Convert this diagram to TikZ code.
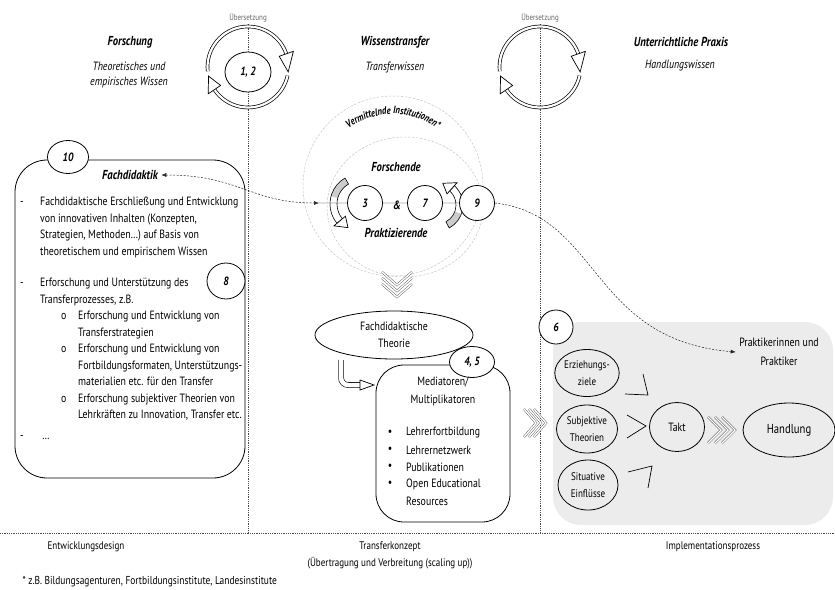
\documentclass[tikz,border=0pt]{standalone}
\usepackage{fontspec}
\setmainfont{PT Sans}[FakeStretch=0.82]
\usetikzlibrary{shapes.geometric,arrows.meta,decorations.text}

\begin{document}
\begin{tikzpicture}
  [x=1pt,y=-1pt,every node/.style={font=\fontsize{12}{16.5}\selectfont},
   num/.style={ellipse,draw,fill=white,line width=.8pt,inner sep=0pt,font=\fontsize{12}{14}\selectfont\bfseries\itshape},
   head/.style={font=\fontsize{13}{16}\selectfont\bfseries\itshape},
   sub/.style={font=\fontsize{12}{15}\selectfont\itshape,align=center},
   bubble/.style={ellipse,draw,line width=.8pt,inner sep=0pt,align=center,font=\fontsize{11}{17}\selectfont},
   dots/.style={gray!60!black,line width=.55pt,dash pattern=on .8pt off 1pt},
   link/.style={gray!30!black,line width=.5pt,dash pattern=on 2pt off 1.5pt},
   ring/.style={gray!45,line width=.5pt,dash pattern=on 2.5pt off 1.5pt},
   chev/.style={gray!60!black,line width=.4pt,double=white,double distance=1.4pt},
   cyc/.style={line width=.7pt,double=white,double distance=2.2pt},
   bent/.style={line width=.6pt,double=white,double distance=4.5pt,rounded corners=7},
   tip/.style={line width=.7pt,fill=white,line join=miter}]
  \useasboundingbox (0,0) rectangle (835,589);

  \fill[gray!15,rounded corners=28] (553,322) rectangle (833,525);
  \draw[dots] (0,533) -- (835,533);
  \draw[dots] (248,24) -- (248,533);
  \draw[dots] (540,24) -- (540,533);

  \node[head] (forsch) at (130,42) {Forschung};
  \node[sub] (theo) at (129,75) {Theoretisches und\\empirisches Wissen};
  \node[head] (wiss) at (395,42) {Wissenstransfer};
  \node[sub] (twiss) at (395,67) {Transferwissen};
  \node[head] (unter) at (681,42) {Unterrichtliche Praxis};
  \node[sub] (hwiss) at (680,66) {Handlungswissen};

  \foreach \cx in {248,540} {
    \draw[cyc] ([shift={(\cx,67)}]174:40.5) arc[start angle=174,end angle=341,radius=40.5];
    \draw[tip] ([shift={(\cx,67)}]341:33) -- ([shift={(\cx,67)}]341:48) -- ([shift={(\cx,67)}]7:40.5) -- cycle;
    \draw[cyc] ([shift={(\cx,67)}]12:40.5) arc[start angle=12,end angle=146,radius=40.5];
    \draw[tip] ([shift={(\cx,67)}]146:33) -- ([shift={(\cx,67)}]146:48) -- ([shift={(\cx,67)}]167:40.5) -- cycle;
    \node[font=\fontsize{8.5}{9}\selectfont,text=gray!80!black] (ueb\cx) at (\cx,18) {Übersetzung};
  }
  \node[num,minimum width=46,minimum height=40] (n12) at (248,72) {1, 2};

  \draw[ring] (393,186) circle[radius=90];
  \draw[ring] (405,207) ellipse[x radius=78,y radius=70];
  \path[decorate,decoration={text along path,text align=center,
    text={|\fontsize{10.5}{11}\selectfont\bfseries\itshape|Vermittelnde Institutionen*}}]
    ([shift={(393,188)}]195:74) arc[start angle=195,end angle=345,radius=74];

  \coordinate (ln3) at (319,203);
  \coordinate (ln9) at (494,203);
  \draw[gray!25,line width=1.2pt] (ln3) -- (ln9);

  \fill[gray!40] ([shift={(360,204)}]240:23) arc[start angle=240,end angle=195,radius=23]
    -- ([shift={(360,204)}]195:30) arc[start angle=195,end angle=240,radius=30] -- cycle;
  \draw[line width=.6pt] ([shift={(360,204)}]240:23) arc[start angle=240,end angle=140,radius=23]
    -- ([shift={(360,204)}]140:30) arc[start angle=140,end angle=240,radius=30] -- cycle;
  \draw[tip] ([shift={(360,204)}]140:19) -- ([shift={(360,204)}]140:34) -- ([shift={(360,204)}]117:26.5) -- cycle;

  \fill[gray!40] ([shift={(437,205)}]62:19) arc[start angle=62,end angle=20,radius=19]
    -- ([shift={(437,205)}]20:26) arc[start angle=20,end angle=62,radius=26] -- cycle;
  \draw[line width=.6pt] ([shift={(437,205)}]62:19) arc[start angle=62,end angle=-48,radius=19]
    -- ([shift={(437,205)}]-48:26) arc[start angle=-48,end angle=62,radius=26] -- cycle;
  \draw[tip] ([shift={(437,205)}]-48:15) -- ([shift={(437,205)}]-48:30) -- ([shift={(437,205)}]-75:22.5) -- cycle;

  \node[num,minimum size=35] (n3) at (365,203) {3};
  \node[font=\fontsize{12}{14}\selectfont\bfseries\itshape] (amp) at (397,205) {\&};
  \node[num,minimum size=35] (n7) at (425,203) {7};
  \node[num,minimum size=35] (n9) at (477,203) {9};
  \node[head] (forschende) at (396,167) {Forschende};
  \node[head] (praktiz) at (396,233) {Praktizierende};

  \node[draw,line width=.8pt,rounded corners=32,minimum width=230,minimum height=318] (fachbox) at (130,319) {};
  \node[num,minimum width=41,minimum height=33] (n10) at (68,157) {10};
  \node[head] (fachtitle) at (130,175) {Fachdidaktik};
  \node[num,minimum width=38,minimum height=36] (n8) at (226,281) {8};
  \node[anchor=north west,align=left,inner sep=0pt] (fachlist) at (20,197)
    {\makebox[20pt][l]{-}Fachdidaktische Erschließung und Entwicklung\\
     \hspace*{20pt}von innovativen Inhalten (Konzepten,\\
     \hspace*{20pt}Strategien, Methoden\dots) auf Basis von\\
     \hspace*{20pt}theoretischem und empirischem Wissen\\[15pt]
     \makebox[20pt][l]{-}Erforschung und Unterstützung des\\
     \hspace*{20pt}Transferprozesses, z.B.\\
     \hspace*{41pt}\makebox[17pt][l]{o}Erforschung und Entwicklung von\\
     \hspace*{58pt}Transferstrategien\\
     \hspace*{41pt}\makebox[17pt][l]{o}Erforschung und Entwicklung von\\
     \hspace*{58pt}Fortbildungsformaten, Unterstützungs-\\
     \hspace*{58pt}materialien etc. für den Transfer\\
     \hspace*{41pt}\makebox[17pt][l]{o}Erforschung subjektiver Theorien von\\
     \hspace*{58pt}Lehrkräften zu Innovation, Transfer etc.\\[4pt]
     \makebox[22pt][l]{-}\dots};
  \draw[link,{Latex[length=5pt,width=4pt]}-{Latex[length=5pt,width=4pt]}]
    (fachtitle.east) .. controls (240,175) and (250,203) .. (ln3);

  \foreach \d in {0,6,12}
    \draw[chev] (382,272+\d) -- (397,285+\d) -- (412,272+\d);

  \node[ellipse,draw,line width=.8pt,minimum width=158,minimum height=48,align=center,inner sep=0pt,
    font=\fontsize{12}{17}\selectfont] (fdt) at (394,335) {Fachdidaktische\\Theorie};
  \node[draw,line width=.8pt,fill=white,rounded corners=28,minimum width=134,minimum height=157] (med) at (443,443.5) {};
  \node[num,minimum width=45,minimum height=31] (n45) at (472,362) {4, 5};
  \node[align=center,font=\fontsize{12}{18}\selectfont] (medtitle) at (443,391) {Mediatoren/\\Multiplikatoren};
  \foreach \t/\y in {Lehrerfortbildung/433,Lehrernetzwerk/450,Publikationen/467,Open Educational/484} {
    \node (mb\y) at (390,\y) {\textbullet};
    \node[anchor=west,inner sep=0pt] (mt\y) at (406,\y) {\t};
  }
  \node[anchor=west,inner sep=0pt] (mt501) at (406,501) {Resources};

  \coordinate (bentend) at (360,385);
  \draw[bent,shorten <=7pt] (fdt.199) |- (bentend);
  \draw[tip] (bentend) ++(0,-5) -- ++(14,5) -- ++(-14,5) -- cycle;

  \foreach \d in {0,5,10}
    \draw[chev] (524+\d,409) -- (536+\d,423) -- (524+\d,437);

  \node[num,minimum size=34] (n6) at (556,327) {6};
  \node[bubble,minimum width=60,minimum height=47] (erz) at (587,373) {Erziehungs-\\ziele};
  \node[bubble,minimum width=61,minimum height=48] (subj) at (587,429) {Subjektive\\Theorien};
  \node[bubble,minimum width=60,minimum height=50] (sit) at (588,485) {Situative\\Einflüsse};
  \node[bubble,minimum width=55,minimum height=49,font=\fontsize{12}{14}\selectfont] (takt) at (677,427) {Takt};
  \node[bubble,minimum width=92,minimum height=54,font=\fontsize{13}{15}\selectfont] (hand) at (789,430) {Handlung};
  \draw[line width=.7pt] (625,394) -- (648,395) -- (643,374);
  \draw[line width=.7pt] (627,415) -- (646,426) -- (627,438);
  \draw[line width=.7pt] (628,472) -- (652,466) -- (648,488);
  \foreach \d in {0,7,14}
    \draw[chev] (708+\d,417) -- (721+\d,430) -- (708+\d,443);

  \node[align=center,font=\fontsize{12}{19}\selectfont] (prak) at (779,352) {Praktikerinnen und\\Praktiker};
  \draw[link,-{Latex[length=5pt,width=4pt]}] (n9.east) .. controls (600,215) and (590,340) .. (prak.west);

  \node[font=\fontsize{11}{13}\selectfont] (entw) at (86,547) {Entwicklungsdesign};
  \node[align=center,font=\fontsize{11}{17}\selectfont] (tkonz) at (390,555) {Transferkonzept\\(Übertragung und Verbreitung (scaling up))};
  \node[font=\fontsize{11}{13}\selectfont] (impl) at (713,547) {Implementationsprozess};
  \node[anchor=west,font=\fontsize{11.5}{13}\selectfont] (fn) at (19,582) {* z.B. Bildungsagenturen, Fortbildungsinstitute, Landesinstitute};
\end{tikzpicture}
\end{document}
